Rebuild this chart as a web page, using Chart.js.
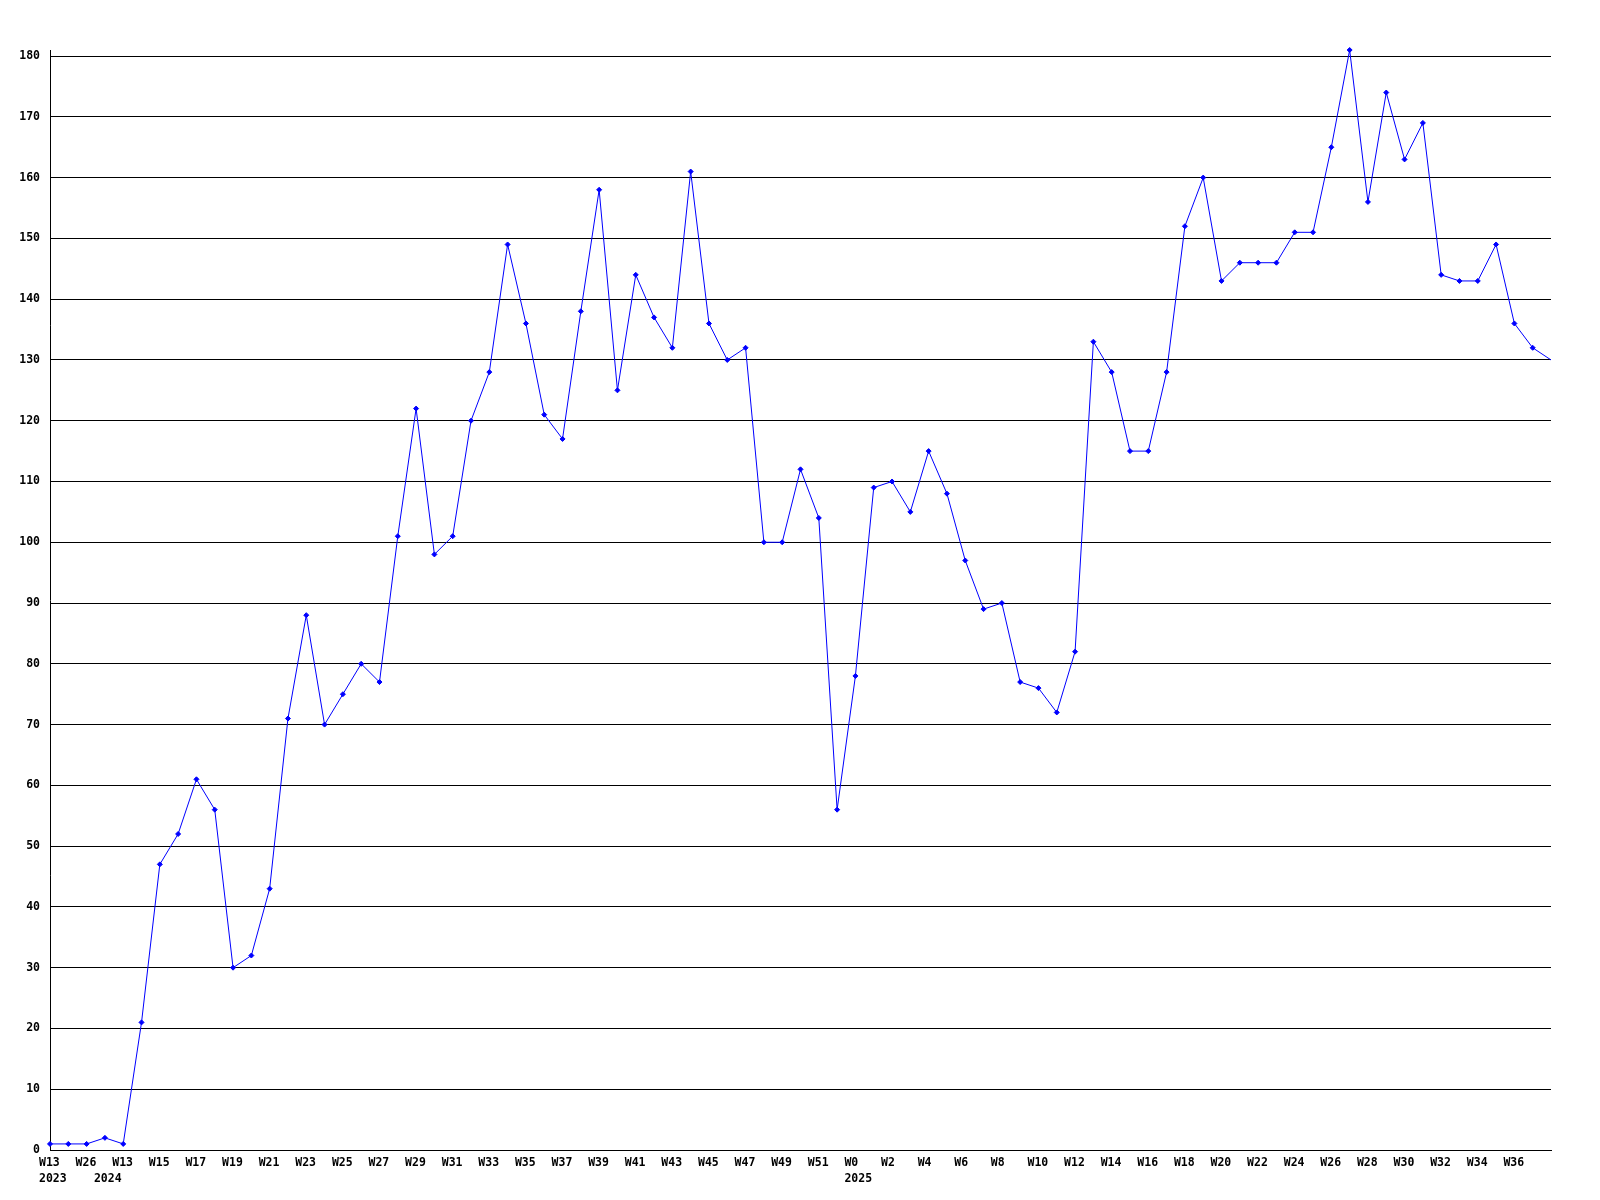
<!DOCTYPE html>
<html>
<head>
<meta charset="utf-8">
<script src="https://cdn.jsdelivr.net/npm/chart.js@4/dist/chart.umd.min.js"></script>
<style>
  html, body { margin: 0; padding: 0; background: #ffffff; }
  canvas { display: block; }
</style>
</head>
<body>
<canvas id="c" width="1600" height="1200"></canvas>
<script>
// Week labels for each point (odd-indexed ones are not printed on the axis)
const weeks = [
  "W13", "W19", "W26", "W5", "W13", "W14", "W15", "W16", "W17", "W18",
  "W19", "W20", "W21", "W22", "W23", "W24", "W25", "W26", "W27", "W28",
  "W29", "W30", "W31", "W32", "W33", "W34", "W35", "W36", "W37", "W38",
  "W39", "W40", "W41", "W42", "W43", "W44", "W45", "W46", "W47", "W48",
  "W49", "W50", "W51", "W52", "W0", "W1", "W2", "W3", "W4", "W5",
  "W6", "W7", "W8", "W9", "W10", "W11", "W12", "W13", "W14", "W15",
  "W16", "W17", "W18", "W19", "W20", "W21", "W22", "W23", "W24", "W25",
  "W26", "W27", "W28", "W29", "W30", "W31", "W32", "W33", "W34", "W35",
  "W36", "W37", "W38"
];
// Year of each point (year label printed where it changes)
const years = [
  "2023", "2023", "2023", "2024", "2024", "2024", "2024", "2024", "2024", "2024",
  "2024", "2024", "2024", "2024", "2024", "2024", "2024", "2024", "2024", "2024",
  "2024", "2024", "2024", "2024", "2024", "2024", "2024", "2024", "2024", "2024",
  "2024", "2024", "2024", "2024", "2024", "2024", "2024", "2024", "2024", "2024",
  "2024", "2024", "2024", "2024", "2025", "2025", "2025", "2025", "2025", "2025",
  "2025", "2025", "2025", "2025", "2025", "2025", "2025", "2025", "2025", "2025",
  "2025", "2025", "2025", "2025", "2025", "2025", "2025", "2025", "2025", "2025",
  "2025", "2025", "2025", "2025", "2025", "2025", "2025", "2025", "2025", "2025",
  "2025", "2025", "2025"
];
const values = [
  1, 1, 1, 2, 1, 21, 47, 52, 61, 56,
  30, 32, 43, 71, 88, 70, 75, 80, 77, 101,
  122, 98, 101, 120, 128, 149, 136, 121, 117, 138,
  158, 125, 144, 137, 132, 161, 136, 130, 132, 100,
  100, 112, 104, 56, 78, 109, 110, 105, 115, 108,
  97, 89, 90, 77, 76, 72, 82, 133, 128, 115,
  115, 128, 152, 160, 143, 146, 146, 146, 151, 151,
  165, 181, 156, 174, 163, 169, 144, 143, 143, 149,
  136, 132, 130
];
const yTicks = [0, 10, 20, 30, 40, 50, 60, 70, 80, 90, 100, 110, 120, 130, 140, 150, 160, 170, 180];
const yMin = 0;
const yMax = 181;

const FONT = "'DejaVu Sans Mono', 'Liberation Mono', monospace";

const bgPlugin = {
  id: 'bg',
  beforeDraw(chart) {
    const ctx = chart.ctx;
    ctx.save();
    ctx.fillStyle = '#ffffff';
    ctx.fillRect(0, 0, chart.width, chart.height);
    ctx.restore();
  }
};

const xLabelPlugin = {
  id: 'xlabels',
  afterDraw(chart) {
    const ctx = chart.ctx;
    const xs = chart.scales.x;
    const top = chart.chartArea.bottom;
    ctx.save();
    ctx.font = 'bold 11.5px ' + FONT;
    ctx.fillStyle = '#000000';
    ctx.textAlign = 'left';
    ctx.textBaseline = 'alphabetic';
    for (let i = 0; i < weeks.length; i++) {
      const px = xs.getPixelForValue(i) - 11;
      if (i % 2 === 0 && i < weeks.length - 1) {
        ctx.fillText(weeks[i], px, top + 16);
      }
      if (i === 0 || years[i] !== years[i - 1]) {
        ctx.fillText(years[i], px, top + 31.5);
      }
    }
    ctx.restore();
  }
};

const pointRadii = values.map((v, i) => i === values.length - 1 ? 0 : 2.5);

new Chart(document.getElementById('c'), {
  type: 'line',
  data: {
    labels: weeks,
    datasets: [{
      data: values,
      borderColor: '#0000ff',
      backgroundColor: '#0000ff',
      borderWidth: 1,
      tension: 0,
      fill: false,
      clip: false,
      pointStyle: 'rectRot',
      pointRadius: pointRadii,
      pointBorderWidth: 1,
      pointBorderColor: '#0000ff',
      pointBackgroundColor: '#0000ff'
    }]
  },
  options: {
    responsive: false,
    animation: false,
    devicePixelRatio: 1,
    layout: { padding: { top: 50, right: 49, left: 0, bottom: 0 } },
    plugins: { legend: { display: false }, tooltip: { enabled: false }, title: { display: false } },
    scales: {
      x: {
        type: 'category',
        offset: false,
        grid: { display: false, drawTicks: false },
        border: { display: true, color: '#000000', width: 1 },
        ticks: { display: false, autoSkip: false },
        afterFit(scale) { scale.height = 50; }
      },
      y: {
        min: yMin,
        max: yMax,
        grid: { display: true, color: '#000000', lineWidth: 1, drawTicks: false },
        border: { display: true, color: '#000000', width: 1 },
        ticks: {
          padding: 10,
          color: '#000000',
          font: { family: FONT, size: 11.5, weight: 'bold' }
        },
        afterBuildTicks(scale) {
          scale.ticks = yTicks.map(v => ({ value: v }));
        },
        afterFit(scale) { scale.width = 50; }
      }
    }
  },
  plugins: [bgPlugin, xLabelPlugin]
});
</script>
</body>
</html>
